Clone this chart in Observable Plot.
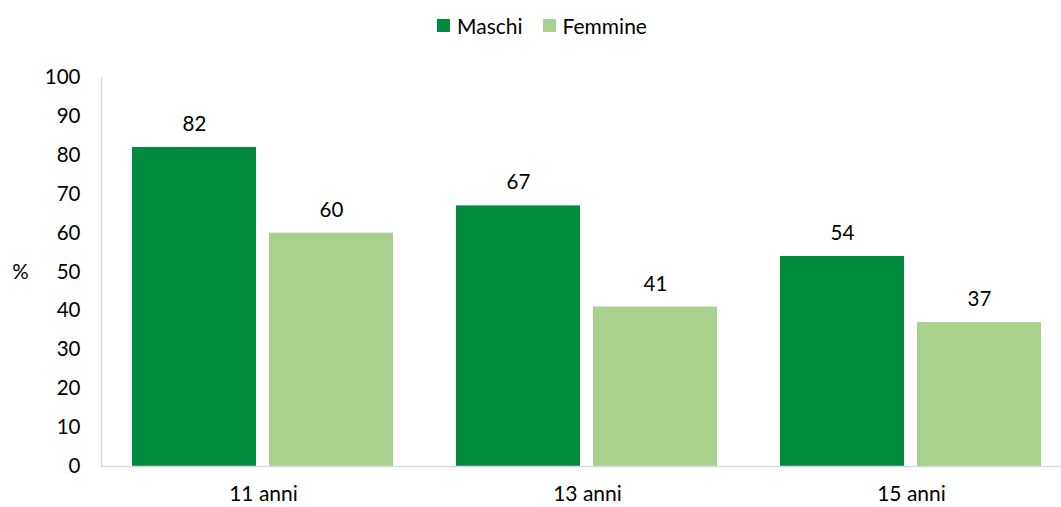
<!DOCTYPE html>
<html>
<head>
<meta charset="utf-8">
<script src="https://cdn.jsdelivr.net/npm/d3@7"></script>
<script src="https://cdn.jsdelivr.net/npm/@observablehq/plot@0.6"></script>
<style>
  html, body { margin: 0; padding: 0; background: #fff; overflow: hidden; }
  body { width: 1061px; height: 507px; font-family: Lato, "Noto Sans", sans-serif; }
  #legend { height: 50px; display: flex; justify-content: center; align-items: center; font-size: 21px; color: #000; padding-left: 23px; box-sizing: border-box; }
  .item { display: flex; align-items: center; margin: 0 10px; }
  .sw { width: 13px; height: 13px; margin-right: 7px; }
</style>
</head>
<body>
<div id="legend"></div>
<div id="chart"></div>
<script>
const groups = ["11 anni", "13 anni", "15 anni"];
const series = ["Maschi", "Femmine"];
const maschi = [82, 67, 54];
const femmine = [60, 41, 37];
const colors = ["#008A3E", "#A9D18E"];
const yTicks = [0, 10, 20, 30, 40, 50, 60, 70, 80, 90, 100];

const data = [];
groups.forEach((g, i) => {
  data.push({group: g, sesso: series[0], value: maschi[i]});
  data.push({group: g, sesso: series[1], value: femmine[i]});
});

const legend = document.getElementById("legend");
series.forEach((s, i) => {
  const it = document.createElement("div");
  it.className = "item";
  it.innerHTML = `<span class="sw" style="background:${colors[i]}"></span><span>${s}</span>`;
  legend.appendChild(it);
});

const chart = Plot.plot({
  width: 1061,
  height: 457,
  marginTop: 27,
  marginBottom: 41,
  marginLeft: 101,
  marginRight: -12,
  style: {fontFamily: "Lato, 'Noto Sans', sans-serif", fontSize: "20px", color: "#000", background: "#fff"},
  fx: {domain: groups, padding: 0, label: null},
  x: {domain: series, axis: null, paddingInner: 0.094, paddingOuter: 0.224},
  y: {domain: [0, 100], label: null, ticks: yTicks},
  color: {domain: series, range: colors},
  marks: [
    Plot.axisY({ticks: yTicks, tickSize: 0, tickPadding: 21, label: null, fill: "#000", fontSize: 20.5}),
    Plot.axisFx({anchor: "bottom", tickSize: 0, tickPadding: 20, label: null, fill: "#000", fontSize: 21}),
    Plot.barY(data, {fx: "group", x: "sesso", y: "value", fill: "sesso"}),
    Plot.frame({anchor: "left", facet: "super", stroke: "#d9d9d9", strokeWidth: 1.5}),
    Plot.ruleY([0], {stroke: "#d9d9d9", strokeWidth: 1.5}),
    Plot.text(data, {fx: "group", x: "sesso", y: "value", text: d => String(d.value), dy: -23, fill: "#000", fontSize: 20.5}),
    Plot.text(["%"], {fx: [groups[0]], frameAnchor: "left", y: [50], dx: -81, textAnchor: "middle", fill: "#000", fontSize: 20.5})
  ]
});
document.getElementById("chart").appendChild(chart);
</script>
</body>
</html>
